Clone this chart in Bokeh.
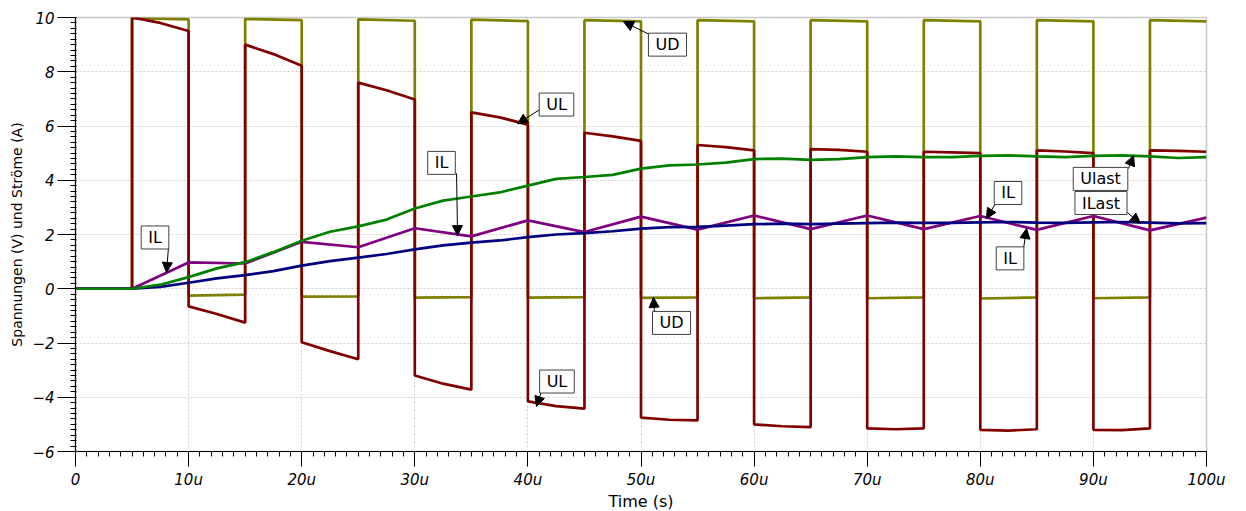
from bokeh.plotting import figure
from bokeh.models import SingleIntervalTicker, Label, Arrow, NormalHead
from bokeh.embed import file_html
from bokeh.resources import INLINE

# ---------------- data (time in microseconds) ----------------
switch_on = [5, 15, 25, 35, 45, 55, 65, 75, 85, 95]
switch_off = [10, 20, 30, 40, 50, 60, 70, 80, 90]

# UD (switch-node / diode voltage)
ud_on_start = [9.98, 9.95, 9.93, 9.92, 9.90, 9.90, 9.90, 9.90, 9.90, 9.90]
ud_on_end = [9.93, 9.90, 9.88, 9.87, 9.86, 9.86, 9.86, 9.86, 9.86, 9.86]
ud_off_start = [-0.25, -0.29, -0.33, -0.33, -0.34, -0.35, -0.35, -0.36, -0.35]
ud_off_end = [-0.22, -0.28, -0.31, -0.31, -0.32, -0.32, -0.32, -0.32, -0.32]

# UL (inductor voltage)
ul_on_start = [10.0, 9.0, 7.6, 6.5, 5.75, 5.3, 5.15, 5.05, 5.1, 5.1]
ul_on_mid = [9.8, 8.65, 7.32, 6.32, 5.62, 5.22, 5.12, 5.03, 5.06, 5.08]
ul_on_end = [9.5, 8.22, 6.98, 6.05, 5.45, 5.1, 5.05, 5.0, 5.0, 5.05]
ul_off_start = [-0.65, -1.97, -3.2, -4.15, -4.75, -5.0, -5.15, -5.2, -5.2]
ul_off_mid = [-0.93, -2.3, -3.5, -4.33, -4.83, -5.07, -5.18, -5.23, -5.21]
ul_off_end = [-1.25, -2.6, -3.72, -4.42, -4.85, -5.1, -5.15, -5.18, -5.15]

# IL (inductor current), sampled at every 5 us
il_t = [0, 5, 10, 15, 20, 25, 30, 35, 40, 45, 50, 55, 60, 65, 70, 75, 80, 85, 90, 95, 100]
il_v = [0, 0, 0.97, 0.93, 1.73, 1.53, 2.23, 1.93, 2.52, 2.09, 2.66, 2.18, 2.7, 2.2,
        2.7, 2.2, 2.68, 2.17, 2.68, 2.15, 2.62]

# Ulast (output voltage) and ILast (load current), sampled every 2.5 us
out_t = [0, 2.5, 5, 7.5, 10, 12.5, 15, 17.5, 20, 22.5, 25, 27.5, 30, 32.5, 35, 37.5,
         40, 42.5, 45, 47.5, 50, 52.5, 55, 57.5, 60, 62.5, 65, 67.5, 70, 72.5, 75,
         77.5, 80, 82.5, 85, 87.5, 90, 92.5, 95, 97.5, 100]
ulast_v = [0, 0, 0, 0.15, 0.43, 0.75, 0.98, 1.35, 1.77, 2.1, 2.3, 2.55, 2.96, 3.25,
           3.4, 3.55, 3.8, 4.05, 4.12, 4.2, 4.43, 4.55, 4.58, 4.65, 4.78, 4.8, 4.75,
           4.78, 4.85, 4.88, 4.85, 4.85, 4.9, 4.92, 4.88, 4.85, 4.9, 4.92, 4.88, 4.82,
           4.85]
ilast_v = [0, 0, 0, 0.07, 0.22, 0.38, 0.5, 0.65, 0.85, 1.02, 1.15, 1.28, 1.45, 1.6,
           1.7, 1.78, 1.9, 2.0, 2.05, 2.12, 2.22, 2.27, 2.28, 2.33, 2.38, 2.4, 2.38,
           2.4, 2.42, 2.44, 2.43, 2.43, 2.45, 2.46, 2.44, 2.43, 2.45, 2.46, 2.44, 2.41,
           2.42]

x_tick_values = [0, 10, 20, 30, 40, 50, 60, 70, 80, 90, 100]
x_tick_labels = ["0", "10u", "20u", "30u", "40u", "50u", "60u", "70u", "80u", "90u", "100u"]

# annotations: text, box centre (t, v), arrow start (t, v), arrow tip (t, v)
annotations = [
    ("UD", 52.34, 9.0, 50.8, 9.36, 48.45, 9.85),
    ("UL", 42.53, 6.79, 41.1, 6.62, 39.08, 6.08),
    ("IL", 32.36, 4.64, 33.69, 4.25, 33.78, 1.96),
    ("IL", 7.03, 1.89, 8.22, 1.52, 8.05, 0.6),
    ("UD", 52.7, -1.26, 51.19, -0.88, 51.1, -0.32),
    ("UL", 42.57, -3.42, 41.2, -3.79, 40.76, -4.34),
    ("IL", 82.45, 3.53, 81.34, 3.14, 80.55, 2.59),
    ("IL", 82.63, 1.12, 83.82, 1.48, 84.09, 2.22),
    ("Ulast", 90.63, 4.05, 93.1, 4.43, 93.55, 4.91),
    ("ILast", 90.67, 3.16, 93.0, 2.81, 94.16, 2.41),
]

# ---------------- build piecewise waveforms ----------------
ud_t, ud_v = [0, 5], [0, 0]
ul_t, ul_v = [0, 5], [0, 0]
for k, ton in enumerate(switch_on):
    toff_edge = ton + 5
    ud_t += [ton, toff_edge]
    ud_v += [ud_on_start[k], ud_on_end[k]]
    ul_t += [ton, ton + 2.5, toff_edge]
    ul_v += [ul_on_start[k], ul_on_mid[k], ul_on_end[k]]
    if k < len(switch_off):
        toff = switch_off[k]
        ud_t += [toff, toff + 5]
        ud_v += [ud_off_start[k], ud_off_end[k]]
        ul_t += [toff, toff + 2.5, toff + 5]
        ul_v += [ul_off_start[k], ul_off_mid[k], ul_off_end[k]]

# ---------------- figure ----------------
FONT = "DejaVu Sans"
p = figure(frame_width=1131, frame_height=434, x_range=(0, 100), y_range=(-6, 10),
           output_backend="svg", toolbar_location=None,
           min_border_left=75, min_border_top=17, min_border_right=30, min_border_bottom=20)
p.background_fill_color = "white"
p.border_fill_color = "white"
p.outline_line_color = "#c8c8c8"
p.outline_line_width = 1.5

for g in (p.xgrid, p.ygrid):
    g.grid_line_color = "#cfcfcf"
    g.grid_line_dash = "2 2"
    g.grid_line_width = 1

p.xaxis.ticker = SingleIntervalTicker(interval=10, num_minor_ticks=10)
p.yaxis.ticker = SingleIntervalTicker(interval=2, num_minor_ticks=10)
p.xaxis.major_label_overrides = {v: s for v, s in zip(x_tick_values, x_tick_labels)}

for ax in (p.xaxis, p.yaxis):
    ax.axis_line_color = "black"
    ax.axis_line_width = 1.2
    ax.major_tick_line_color = "black"
    ax.minor_tick_line_color = "black"
    ax.major_tick_in = 0
    ax.major_label_text_font = FONT
    ax.major_label_text_font_style = "italic"
    ax.major_label_text_font_size = "15px"
    ax.major_label_text_color = "black"
    ax.axis_label_text_font = FONT
    ax.axis_label_text_font_style = "normal"
    ax.axis_label_text_color = "black"

p.xaxis.major_tick_out = 15
p.xaxis.minor_tick_out = 5
p.xaxis.minor_tick_in = 0
p.xaxis.major_label_standoff = 4
p.xaxis.axis_label = "Time (s)"
p.xaxis.axis_label_text_font_size = "16px"
p.xaxis.axis_label_standoff = 0

p.yaxis.major_tick_out = 18
p.yaxis.minor_tick_out = 5
p.yaxis.minor_tick_in = 1
p.yaxis.major_label_standoff = 3
p.yaxis.axis_label = "Spannungen (V) und Ströme (A)"
p.yaxis.axis_label_text_font_size = "14px"
p.yaxis.axis_label_standoff = 4

LW = 2.7
p.line(ud_t, ud_v, line_color="#808000", line_width=LW)
p.line(ul_t, ul_v, line_color="#800000", line_width=LW)
p.line(il_t, il_v, line_color="#800080", line_width=LW)
p.line(out_t, ilast_v, line_color="#000080", line_width=LW)
p.line(out_t, ulast_v, line_color="#008000", line_width=LW)

for text, bx, by, sx, sy, ex, ey in annotations:
    p.add_layout(Arrow(end=NormalHead(size=10, fill_color="black", line_color="black"),
                       x_start=sx, y_start=sy, x_end=ex, y_end=ey,
                       line_color="black", line_width=1))
for text, bx, by, sx, sy, ex, ey in annotations:
    p.add_layout(Label(x=bx, y=by, text=text, text_align="center", text_baseline="middle",
                       text_font=FONT, text_font_size="16px", text_color="black",
                       background_fill_color="white", border_line_color="#404040",
                       border_line_width=1, padding=dict(left=7, right=7, top=2, bottom=2)))

open("out.html", "w").write(file_html(p, INLINE))
